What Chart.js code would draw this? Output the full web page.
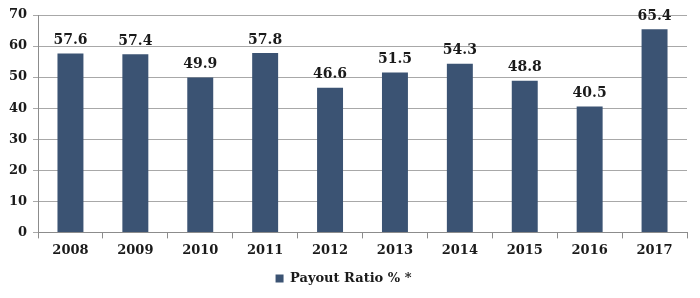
<!DOCTYPE html>
<html>
<head>
<meta charset="utf-8">
<script src="https://cdn.jsdelivr.net/npm/chart.js@4/dist/chart.umd.min.js"></script>
<style>
  html, body { margin: 0; padding: 0; background: #fff; }
  #wrap { width: 700px; height: 298px; }
</style>
</head>
<body>
<div id="wrap"><canvas id="payout" width="700" height="298"></canvas></div>
<script>
const years = ["2008", "2009", "2010", "2011", "2012", "2013", "2014", "2015", "2016", "2017"];
const payoutRatio = [57.6, 57.4, 49.9, 57.8, 46.6, 51.5, 54.3, 48.8, 40.5, 65.4];
const seriesName = "Payout Ratio % *";

const BAR = "#3b5373";
const FONT = "'DejaVu Serif', 'Liberation Serif', serif";

// value labels above each bar
const barLabels = {
  id: "barLabels",
  afterDatasetsDraw(chart) {
    const ctx = chart.ctx;
    const meta = chart.getDatasetMeta(0);
    ctx.save();
    ctx.font = "bold 14px " + FONT;
    ctx.fillStyle = "#1a1a1a";
    ctx.textAlign = "center";
    ctx.textBaseline = "bottom";
    meta.data.forEach((bar, i) => {
      ctx.fillText(payoutRatio[i].toFixed(1), bar.x, bar.y - 6);
    });
    ctx.restore();
  }
};

new Chart(document.getElementById("payout"), {
  type: "bar",
  data: {
    labels: years,
    datasets: [{
      label: seriesName,
      data: payoutRatio,
      backgroundColor: BAR,
      barPercentage: 0.4,
      categoryPercentage: 1.0
    }]
  },
  options: {
    responsive: false,
    animation: false,
    layout: { padding: { left: 0, right: 13, top: 15, bottom: 3 } },
    plugins: {
      legend: {
        position: "bottom",
        labels: {
          boxWidth: 8,
          boxHeight: 8,
          padding: 10,
          color: "#1a1a1a",
          font: { family: FONT, size: 13, weight: "bold" }
        }
      },
      tooltip: { enabled: false }
    },
    scales: {
      x: {
        offset: true,
        grid: {
          offset: true,
          drawOnChartArea: false,
          tickLength: 6,
          color: "#8c8c8c"
        },
        border: { color: "#8c8c8c" },
        ticks: {
          color: "#1a1a1a",
          padding: 4,
          font: { family: FONT, size: 13, weight: "bold" }
        }
      },
      y: {
        min: 0,
        max: 70,
        afterFit: s => { s.width = 38; },
        grid: { color: "#a8a8a8", tickLength: 5 },
        border: { color: "#8c8c8c" },
        ticks: {
          stepSize: 10,
          color: "#1a1a1a",
          padding: 6,
          font: { family: FONT, size: 13, weight: "bold" }
        }
      }
    }
  },
  plugins: [barLabels]
});
</script>
</body>
</html>
